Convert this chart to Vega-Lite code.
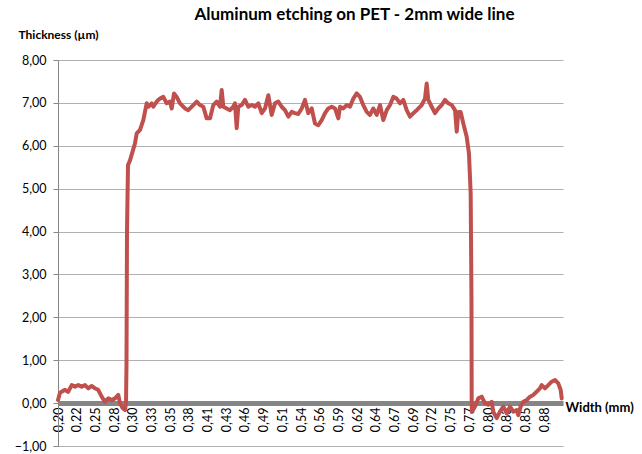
{
  "$schema": "https://vega.github.io/schema/vega-lite/v6.json",
  "autosize": "none",
  "width": 505,
  "height": 386,
  "padding": {"left": 58, "top": 60, "right": 79, "bottom": 8},
  "background": "white",
  "config": {"view": {"stroke": null}, "font": "Lato"},
  "title": {
    "text": "Aluminum etching on PET - 2mm wide line",
    "font": "Lato", "fontSize": 17, "fontWeight": "bold", "color": "#000000",
    "anchor": "middle", "dx": 44, "offset": 4
  },
  "data": {"values": [
    {"w": 0.1977, "t": 0.07}, {"w": 0.2005, "t": 0.24}, {"w": 0.2075, "t": 0.31}, {"w": 0.2117, "t": 0.26},
    {"w": 0.2169, "t": 0.42}, {"w": 0.2215, "t": 0.38}, {"w": 0.2261, "t": 0.42}, {"w": 0.2308, "t": 0.38},
    {"w": 0.2355, "t": 0.42}, {"w": 0.2401, "t": 0.345}, {"w": 0.2448, "t": 0.40}, {"w": 0.2494, "t": 0.345},
    {"w": 0.2541, "t": 0.305}, {"w": 0.2588, "t": 0.15}, {"w": 0.2634, "t": 0.03}, {"w": 0.2680, "t": 0.11},
    {"w": 0.2728, "t": 0.07}, {"w": 0.2774, "t": 0.11}, {"w": 0.2820, "t": 0.19}, {"w": 0.2844, "t": 0.00},
    {"w": 0.2882, "t": -0.12}, {"w": 0.2914, "t": -0.16}, {"w": 0.2928, "t": 0.00}, {"w": 0.2935, "t": 0.93},
    {"w": 0.2942, "t": 4.03}, {"w": 0.2956, "t": 5.55}, {"w": 0.2984, "t": 5.66}, {"w": 0.3026, "t": 5.90},
    {"w": 0.3054, "t": 6.06}, {"w": 0.3078, "t": 6.29}, {"w": 0.3124, "t": 6.37}, {"w": 0.3170, "t": 6.60},
    {"w": 0.3217, "t": 6.99}, {"w": 0.3240, "t": 6.91}, {"w": 0.3287, "t": 6.99}, {"w": 0.3310, "t": 6.91},
    {"w": 0.3357, "t": 7.03}, {"w": 0.3403, "t": 7.10}, {"w": 0.3450, "t": 7.14}, {"w": 0.3497, "t": 6.99},
    {"w": 0.3543, "t": 7.03}, {"w": 0.3567, "t": 6.87}, {"w": 0.3599, "t": 7.22}, {"w": 0.3637, "t": 7.14},
    {"w": 0.3683, "t": 6.99}, {"w": 0.3753, "t": 6.87}, {"w": 0.3799, "t": 6.83}, {"w": 0.3869, "t": 6.95},
    {"w": 0.3917, "t": 7.03}, {"w": 0.3963, "t": 6.95}, {"w": 0.4009, "t": 6.91}, {"w": 0.4056, "t": 6.64},
    {"w": 0.4103, "t": 6.64}, {"w": 0.4149, "t": 6.95}, {"w": 0.4196, "t": 7.03}, {"w": 0.4242, "t": 6.91},
    {"w": 0.4266, "t": 7.30}, {"w": 0.4289, "t": 6.91}, {"w": 0.4336, "t": 6.87}, {"w": 0.4382, "t": 6.83},
    {"w": 0.4428, "t": 6.91}, {"w": 0.4452, "t": 6.99}, {"w": 0.4476, "t": 6.41}, {"w": 0.4498, "t": 6.91},
    {"w": 0.4546, "t": 6.95}, {"w": 0.4592, "t": 7.07}, {"w": 0.4638, "t": 6.91}, {"w": 0.4686, "t": 6.95},
    {"w": 0.4732, "t": 6.91}, {"w": 0.4778, "t": 6.99}, {"w": 0.4826, "t": 6.76}, {"w": 0.4872, "t": 6.87},
    {"w": 0.4918, "t": 7.18}, {"w": 0.4965, "t": 6.72}, {"w": 0.5012, "t": 6.99}, {"w": 0.5058, "t": 7.03},
    {"w": 0.5105, "t": 6.91}, {"w": 0.5151, "t": 6.83}, {"w": 0.5198, "t": 6.68}, {"w": 0.5245, "t": 6.79},
    {"w": 0.5291, "t": 6.76}, {"w": 0.5337, "t": 6.74}, {"w": 0.5385, "t": 6.87}, {"w": 0.5431, "t": 7.07},
    {"w": 0.5477, "t": 6.76}, {"w": 0.5525, "t": 6.87}, {"w": 0.5571, "t": 6.52}, {"w": 0.5617, "t": 6.48},
    {"w": 0.5665, "t": 6.60}, {"w": 0.5711, "t": 6.76}, {"w": 0.5757, "t": 6.87}, {"w": 0.5804, "t": 6.91},
    {"w": 0.5851, "t": 6.87}, {"w": 0.5897, "t": 6.64}, {"w": 0.5921, "t": 6.91}, {"w": 0.5967, "t": 6.87},
    {"w": 0.6014, "t": 6.95}, {"w": 0.6060, "t": 6.91}, {"w": 0.6107, "t": 7.10}, {"w": 0.6154, "t": 7.22},
    {"w": 0.6200, "t": 7.14}, {"w": 0.6246, "t": 6.95}, {"w": 0.6294, "t": 6.79}, {"w": 0.6340, "t": 6.72},
    {"w": 0.6386, "t": 6.87}, {"w": 0.6434, "t": 6.72}, {"w": 0.6480, "t": 6.95}, {"w": 0.6526, "t": 6.60},
    {"w": 0.6574, "t": 6.83}, {"w": 0.6620, "t": 6.95}, {"w": 0.6666, "t": 7.14}, {"w": 0.6713, "t": 7.10},
    {"w": 0.6760, "t": 6.99}, {"w": 0.6806, "t": 7.07}, {"w": 0.6853, "t": 6.83}, {"w": 0.6899, "t": 6.68},
    {"w": 0.6946, "t": 6.76}, {"w": 0.6993, "t": 6.83}, {"w": 0.7063, "t": 6.95}, {"w": 0.7109, "t": 7.10},
    {"w": 0.7133, "t": 7.45}, {"w": 0.7155, "t": 7.07}, {"w": 0.7203, "t": 6.91}, {"w": 0.7249, "t": 6.76},
    {"w": 0.7295, "t": 6.87}, {"w": 0.7343, "t": 6.95}, {"w": 0.7389, "t": 7.07}, {"w": 0.7435, "t": 6.99},
    {"w": 0.7483, "t": 6.95}, {"w": 0.7529, "t": 6.83}, {"w": 0.7553, "t": 6.33}, {"w": 0.7575, "t": 6.79},
    {"w": 0.7608, "t": 6.79}, {"w": 0.7645, "t": 6.52}, {"w": 0.7692, "t": 6.21}, {"w": 0.7724, "t": 5.82},
    {"w": 0.7748, "t": 4.89}, {"w": 0.7759, "t": 2.40}, {"w": 0.7762, "t": 0.07}, {"w": 0.7765, "t": -0.21},
    {"w": 0.7808, "t": -0.08}, {"w": 0.7854, "t": 0.11}, {"w": 0.7902, "t": 0.15}, {"w": 0.7948, "t": 0.00},
    {"w": 0.7994, "t": -0.04}, {"w": 0.8042, "t": 0.03}, {"w": 0.8064, "t": -0.20}, {"w": 0.8112, "t": -0.35},
    {"w": 0.8158, "t": -0.20}, {"w": 0.8204, "t": -0.08}, {"w": 0.8252, "t": -0.24}, {"w": 0.8298, "t": -0.08},
    {"w": 0.8344, "t": -0.20}, {"w": 0.8391, "t": -0.16}, {"w": 0.8414, "t": -0.28}, {"w": 0.8447, "t": -0.08},
    {"w": 0.8484, "t": 0.03}, {"w": 0.8531, "t": 0.07}, {"w": 0.8577, "t": 0.15}, {"w": 0.8624, "t": 0.19},
    {"w": 0.8671, "t": 0.27}, {"w": 0.8717, "t": 0.345}, {"w": 0.8741, "t": 0.42}, {"w": 0.8787, "t": 0.345},
    {"w": 0.8833, "t": 0.42}, {"w": 0.8881, "t": 0.50}, {"w": 0.8927, "t": 0.54}, {"w": 0.8973, "t": 0.46},
    {"w": 0.9007, "t": 0.305}, {"w": 0.9021, "t": 0.11}
  ]},
  "mark": {"type": "line", "color": "#C0504D", "strokeWidth": 4, "strokeJoin": "round", "strokeCap": "round"},
  "encoding": {
    "x": {
      "field": "w", "type": "quantitative",
      "scale": {"domain": [0.1977, 0.9039], "nice": false, "zero": false},
      "axis": {
        "orient": "bottom", "offset": -42.9, "zindex": 0,
        "values": [0.1977, 0.22385, 0.25, 0.27615, 0.3023, 0.32845, 0.3546, 0.38075, 0.4069, 0.43305, 0.4592, 0.48535, 0.5115, 0.53765, 0.5638, 0.58995, 0.6161, 0.64225, 0.6684, 0.69455, 0.7207, 0.74685, 0.773, 0.79915, 0.8253, 0.85145, 0.8776],
        "labelExpr": "replace(format(datum.value, '.2f'), '.', ',')",
        "labelAngle": 270, "labelAlign": "right", "labelBaseline": "middle",
        "labelPadding": 4, "labelFont": "Lato", "labelFontSize": 12.5, "labelColor": "#000000",
        "labelOverlap": false, "labelFlush": false,
        "ticks": false, "grid": false,
        "domainColor": "#868686", "domainWidth": 5,
        "title": "Width (mm)", "titleFont": "Lato", "titleFontSize": 13, "titleFontWeight": "bold", "titleColor": "#000000",
        "titleAngle": 0, "titleAlign": "left", "titleBaseline": "middle", "titleX": 507, "titleY": 4
      }
    },
    "y": {
      "field": "t", "type": "quantitative",
      "scale": {"domain": [-1, 8], "nice": false, "zero": false},
      "axis": {
        "values": [-1, 0, 1, 2, 3, 4, 5, 6, 7, 8],
        "labelExpr": "replace(format(datum.value, '.2f'), '.', ',')",
        "labelFont": "Lato", "labelFontSize": 12.5, "labelColor": "#000000", "labelPadding": 7,
        "ticks": true, "tickSize": 5, "tickColor": "#868686",
        "domainColor": "#868686", "domainWidth": 1,
        "grid": true, "gridColor": "#b0b0b0", "gridWidth": 1, "zindex": 0,
        "title": "Thickness (µm)", "titleFont": "Lato", "titleFontSize": 12, "titleFontWeight": "bold", "titleColor": "#000000",
        "titleAngle": 0, "titleAlign": "left", "titleBaseline": "middle", "titleX": -40, "titleY": -26
      }
    }
  }
}
